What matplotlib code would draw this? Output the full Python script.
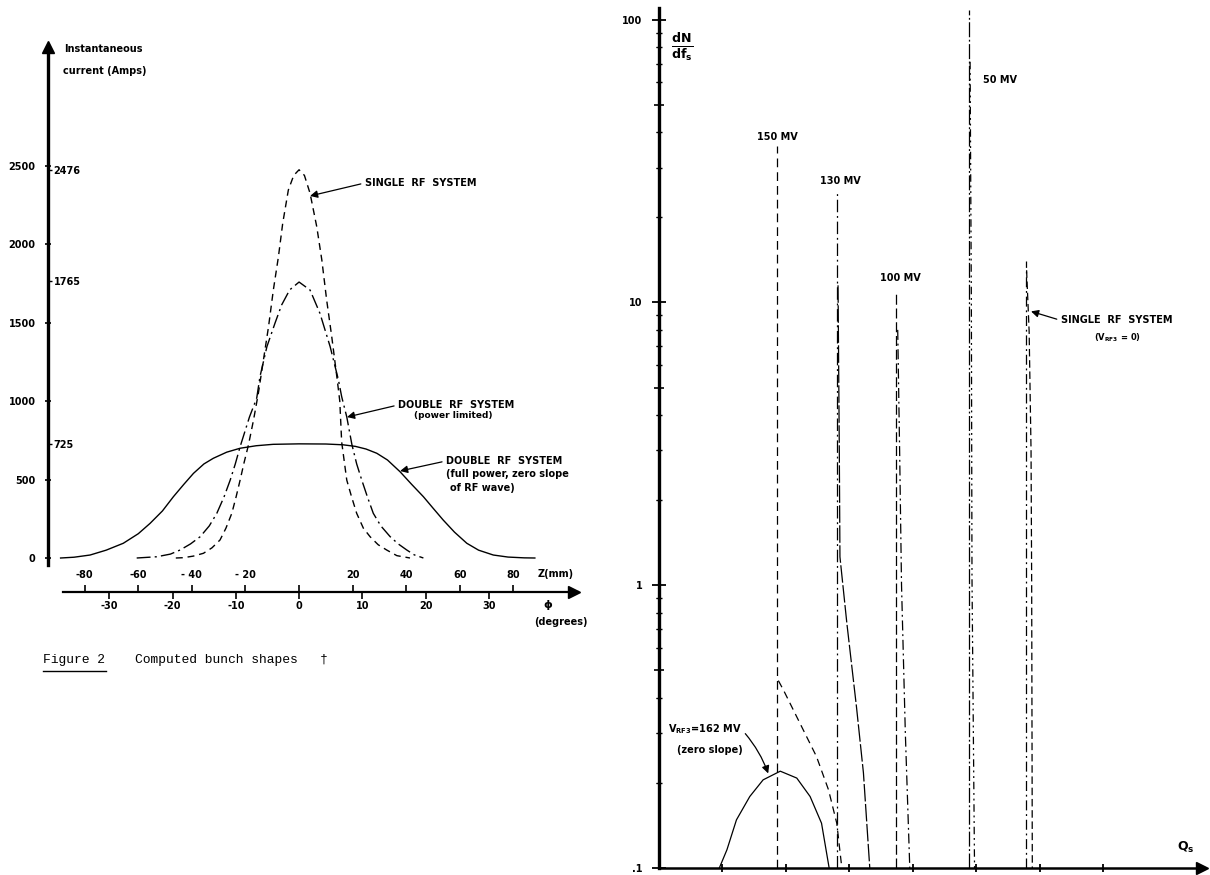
import matplotlib
matplotlib.use("Agg")
import matplotlib.pyplot as plt
from matplotlib.lines import Line2D
from matplotlib.ticker import NullFormatter

plt.rcParams["font.family"] = ["DejaVu Sans"]
plt.rcParams["font.weight"] = "bold"
plt.rcParams["mathtext.default"] = "bf"
plt.rcParams["axes.unicode_minus"] = False

# ---------------- Left panel data: bunch shapes ----------------
z_full = [-89, -84, -78, -72, -65.6, -60, -55.6, -51, -46.9, -43, -39.4, -35.5, -32, -27, -22,
          -16, -9.7, 0, 10, 16.4, 21, 25, 29, 33, 37.7, 42, 46.4, 50, 53.8, 58, 62.6, 67,
          72.5, 78, 84, 88]
i_full = [0, 5, 19, 50, 94, 155, 221, 300, 391, 470, 540, 600, 636, 675, 700,
          716, 725, 728, 727, 722, 712, 695, 668, 625, 550, 470, 391, 318, 242, 165, 94, 50,
          19, 6, 1, 0]

z_power = [-60.6, -53.1, -48, -44.4, -40.5, -36.9, -33.5, -30.7, -28, -25.7, -23.8, -22,
           -18.5, -15.8, -14.6, -12, -9, -6.5, -3.5, 0, 4.1, 7.8, 11.6, 14.7, 15.9, 17.8,
           19.7, 21.5, 23.4, 25.5, 27.7, 30.5, 34, 37, 40.2, 43, 46.4]
i_power = [0, 8, 25, 51, 90, 136, 205, 285, 390, 497, 600, 710,
           900, 1020, 1156, 1348, 1497, 1614, 1710, 1760, 1709, 1560, 1348, 1135, 1029, 900,
           725, 600, 497, 390, 285, 205, 136, 90, 51, 20, 0]

z_single = [-46, -43.2, -39.5, -35.7, -32.5, -29.5, -27.3, -25.1, -23.5, -22, -20.5, -18.9,
            -17, -15.2, -13.3, -11.4, -9.6, -7.7, -6.1, -4, -2, 0, 2, 4.1, 6.6, 8.5, 10.3,
            12.2, 14.1, 15.2, 15.9, 17.8, 19.6, 21.5, 24, 26.5, 29.5, 32.7, 36.5, 41.4]
i_single = [0, 2, 12, 30, 65, 115, 190, 285, 390, 497, 610, 720,
            880, 1050, 1263, 1475, 1709, 1922, 2135, 2347, 2440, 2476, 2440, 2326, 2113, 1900, 1645,
            1411, 1156, 1000, 740, 497, 390, 285, 190, 136, 85, 51, 15, 0]

current_ticks = [0, 500, 1000, 1500, 2000, 2500]
peak_values = [725, 1765, 2476]
z_ticks = [-80, -60, -40, -20, 0, 20, 40, 60, 80]
z_tick_labels = ["-80", "-60", "- 40", "- 20", "", "20", "40", "60", "80"]
phi_ticks = [-30, -20, -10, 0, 10, 20, 30]
MM_PER_DEG = 2.36

# ---------------- Right panel data: synchrotron frequency spectra ----------------
q_162 = [0.95, 1.07, 1.22, 1.43, 1.64, 1.91, 2.17, 2.38, 2.56, 2.68]
d_162 = [0.1, 0.116, 0.148, 0.179, 0.205, 0.22, 0.208, 0.179, 0.144, 0.1]

q_150_spike = [1.86, 1.86]
d_150_spike = [0.1, 35.7]
q_150_tail = [1.88, 1.96, 2.22, 2.48, 2.67, 2.80, 2.88]
d_150_tail = [0.46, 0.426, 0.325, 0.248, 0.189, 0.144, 0.1]

q_130_spike = [2.81, 2.81]
d_130_spike = [0.1, 24.6]
q_130_tail = [2.82, 2.84, 2.85, 2.96, 3.11, 3.22, 3.32]
d_130_tail = [11.5, 3.0, 1.26, 0.73, 0.372, 0.217, 0.1]

q_100_spike = [3.74, 3.74]
d_100_spike = [0.1, 11.0]
q_100_tail = [3.76, 3.79, 3.82, 3.88, 3.95]
d_100_tail = [8.0, 3.0, 1.0, 0.3, 0.1]

q_50_spike = [4.89, 4.89]
d_50_spike = [0.1, 108]
q_50_tail = [4.90, 4.92, 4.93, 4.97]
d_50_tail = [71, 10, 1.06, 0.1]

q_single_spike = [5.78, 5.78]
d_single_spike = [0.1, 14]
q_single_tail = [5.79, 5.83, 5.86, 5.87, 5.88]
d_single_tail = [13, 7.9, 3.0, 1.0, 0.1]

density_ticks = [0.1, 1, 10, 100]
density_tick_labels = [".1", "1", "10", "100"]
density_mid_ticks = [0.5, 5, 50]
density_minor_ticks = [0.2, 0.3, 0.4, 0.6, 0.7, 0.8, 0.9, 2, 3, 4, 6, 7, 8, 9,
                       20, 30, 40, 60, 70, 80, 90]
q_ticks = [1, 2, 3, 4, 5, 6, 7]

W, H = 1210, 875
fig = plt.figure(figsize=(W / 100, H / 100), dpi=100)
fig.patch.set_facecolor("white")


def px_axes(x0, y0, x1, y1):
    return fig.add_axes([x0 / W, 1 - y1 / H, (x1 - x0) / W, (y1 - y0) / H])


FS = 7
LW = 1.0

# =============== Left panel ===============
ax = px_axes(48, 47, 578, 592)
ax.set_xlim(-93.7, 104.1)
ax.set_ylim(-216.8, 3259)
ax.patch.set_alpha(0)
for s in ["top", "right"]:
    ax.spines[s].set_visible(False)
ax.spines["left"].set_linewidth(2.4)
ax.spines["left"].set_bounds(-45, 3259)
ax.spines["bottom"].set_linewidth(1.6)
ax.spines["bottom"].set_bounds(-88, 104.1)

ax.plot(z_full, i_full, color="k", lw=LW)
ax.plot(z_power, i_power, color="k", lw=LW, dashes=(10, 3, 1.5, 3))
ax.plot(z_single, i_single, color="k", lw=LW, dashes=(5, 3.5))

ax.set_yticks(current_ticks)
ax.tick_params(axis="y", direction="inout", length=5, width=1.2, pad=6.5, labelsize=FS)
ax.set_xticks(z_ticks, z_tick_labels)
ax.tick_params(axis="x", direction="in", length=5, width=1.2, pad=-16, labelsize=FS)

sec = ax.secondary_xaxis("bottom", functions=(lambda z: z / MM_PER_DEG, lambda p: p * MM_PER_DEG))
sec.set_xticks(phi_ticks)
sec.tick_params(direction="out", length=5, width=1.2, pad=1.5, labelsize=FS)
sec.spines["bottom"].set_visible(False)

secy = ax.secondary_yaxis(0, functions=(lambda v: v, lambda v: v))
secy.set_yticks(peak_values)
secy.set_alignment("right")
secy.tick_params(direction="out", length=3, width=1.0, pad=1, labelsize=FS)
for sp in secy.spines.values():
    sp.set_visible(False)

ax.plot([0], [1], marker="^", ms=8, color="k", transform=ax.transAxes, clip_on=False)
ax.plot([0.992], [0], marker=">", ms=8, color="k", transform=ax.transAxes, clip_on=False)

ax.text(-87.7, 3246, "Instantaneous", ha="left", va="center", fontsize=FS)
ax.text(-88.1, 3106, "current (Amps)", ha="left", va="center", fontsize=FS)
ax.text(95.9, -102, "Z(mm)", ha="center", va="center", fontsize=FS)
ax.text(92.9, -300, "ϕ", ha="center", va="center", fontsize=FS + 1)
ax.text(97.8, -408, "(degrees)", ha="center", va="center", fontsize=FS)

arrow_kw = dict(arrowstyle="-|>", color="k", lw=0.9, mutation_scale=11, shrinkA=1, shrinkB=0)
ax.annotate("SINGLE  RF  SYSTEM", xy=(4.1, 2309), xytext=(24.6, 2392), ha="left", va="center",
            fontsize=FS, arrowprops=dict(relpos=(0, 0.5), **arrow_kw))
ax.annotate("DOUBLE  RF  SYSTEM", xy=(17.9, 899), xytext=(37, 976), ha="left", va="center",
            fontsize=FS, arrowprops=dict(relpos=(0, 0.5), **arrow_kw))
ax.text(57.5, 912, "(power limited)", ha="center", va="center", fontsize=FS - 0.5)
ax.annotate("DOUBLE  RF  SYSTEM", xy=(37.7, 555), xytext=(54.9, 619), ha="left", va="center",
            fontsize=FS, arrowprops=dict(relpos=(0, 0.5), **arrow_kw))
ax.text(54.9, 536, "(full power, zero slope", ha="left", va="center", fontsize=FS)
ax.text(56.3, 446, "of RF wave)", ha="left", va="center", fontsize=FS)

# Caption
CAP_FS = 9.4
fig.text(43 / W, 1 - 660 / H, "Figure 2", family="Liberation Mono", fontsize=CAP_FS,
         weight="normal", va="center", ha="left")
fig.add_artist(Line2D([43 / W, 106 / W], [1 - 671 / H, 1 - 671 / H], color="k", lw=1.0,
                      transform=fig.transFigure))
fig.text(135 / W, 1 - 660 / H, "Computed bunch shapes", family="Liberation Mono",
         fontsize=CAP_FS, weight="normal", va="center", ha="left")
fig.text(320 / W, 1 - 660 / H, "†", family="Liberation Mono", fontsize=CAP_FS,
         weight="normal", va="center", ha="left")

# =============== Right panel ===============
ax2 = px_axes(659, 8, 1205, 868)
ax2.set_yscale("log")
ax2.set_xlim(0, 8.6)
ax2.set_ylim(0.1, 110)
ax2.patch.set_alpha(0)
for s in ["top", "right"]:
    ax2.spines[s].set_visible(False)
ax2.spines["left"].set_linewidth(2.4)
ax2.spines["bottom"].set_linewidth(1.8)

lw2 = 0.9
ax2.plot(q_162, d_162, color="k", lw=lw2)
ax2.plot(q_150_spike, d_150_spike, color="k", lw=lw2, dashes=(7, 4))
ax2.plot(q_150_tail, d_150_tail, color="k", lw=lw2, dashes=(6, 4))
ax2.plot(q_130_spike, d_130_spike, color="k", lw=lw2, dashes=(10, 3, 1.5, 3))
ax2.plot(q_130_tail, d_130_tail, color="k", lw=lw2, dashes=(14, 2))
ax2.plot(q_100_spike, d_100_spike, color="k", lw=lw2, dashes=(8, 3))
ax2.plot(q_100_tail, d_100_tail, color="k", lw=lw2, dashes=(8, 3, 1.5, 3))
ax2.plot(q_50_spike, d_50_spike, color="k", lw=lw2, dashes=(12, 2, 1.5, 2))
ax2.plot(q_50_tail, d_50_tail, color="k", lw=lw2, dashes=(6, 3, 1.5, 3, 1.5, 3))
ax2.plot(q_single_spike, d_single_spike, color="k", lw=lw2, dashes=(8, 3, 1.5, 3))
ax2.plot(q_single_tail, d_single_tail, color="k", lw=lw2, dashes=(6, 3))

ax2.set_yticks(density_ticks, density_tick_labels)
ax2.set_yticks(density_minor_ticks, minor=True)
ax2.yaxis.set_minor_formatter(NullFormatter())
ax2.tick_params(axis="y", which="major", direction="inout", length=10, width=1.3, pad=7,
                labelsize=FS)
ax2.tick_params(axis="y", which="minor", direction="inout", length=4.5, width=1.0)
ax2.set_xticks(q_ticks)
ax2.xaxis.set_major_formatter(NullFormatter())
ax2.tick_params(axis="x", direction="inout", length=5.5, width=1.3)

sec2 = ax2.secondary_yaxis(0, functions=(lambda v: v, lambda v: v))
sec2.set_yticks(density_mid_ticks)
sec2.yaxis.set_major_formatter(NullFormatter())
sec2.tick_params(direction="inout", length=7, width=1.2)
for sp in sec2.spines.values():
    sp.set_visible(False)

ax2.plot([0.995], [0], marker=">", ms=8, color="k", transform=ax2.transAxes, clip_on=False)

ax2.text(1.86, 38.4, "150 MV", ha="center", va="center", fontsize=FS)
ax2.text(2.85, 26.9, "130 MV", ha="center", va="center", fontsize=FS)
ax2.text(3.80, 12.2, "100 MV", ha="center", va="center", fontsize=FS)
ax2.text(5.37, 61, "50 MV", ha="center", va="center", fontsize=FS)
ax2.text(0.37, 80, r"$\frac{dN}{df_s}$", ha="center", va="center", fontsize=13)
ax2.text(8.3, 0.118, r"$Q_s$", ha="center", va="center", fontsize=9)

ax2.annotate("SINGLE  RF  SYSTEM", xy=(5.86, 9.3), xytext=(6.33, 8.64), ha="left", va="center",
             fontsize=FS, arrowprops=dict(relpos=(0, 0.5), **arrow_kw))
ax2.text(7.23, 7.5, r"($V_{RF3}$ = 0)", ha="center", va="center", fontsize=FS - 1)
ax2.annotate(r"$V_{RF3}$=162 MV", xy=(1.72, 0.216), xytext=(0.14, 0.309), ha="left",
             va="center", fontsize=FS,
             arrowprops=dict(relpos=(1, 0.5), connectionstyle="arc3,rad=-0.1", **arrow_kw))
ax2.text(0.28, 0.262, "(zero slope)", ha="left", va="center", fontsize=FS)

fig.savefig("out.png", dpi=100, facecolor="white")
